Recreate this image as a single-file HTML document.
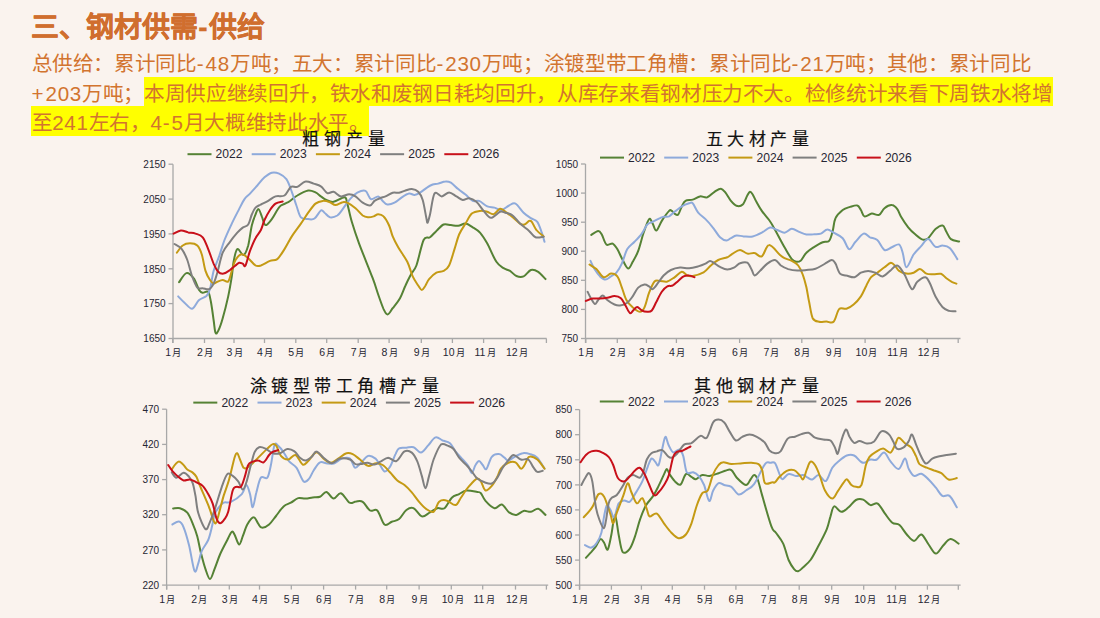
<!DOCTYPE html>
<html lang="zh-CN"><head><meta charset="utf-8">
<style>
html,body{margin:0;padding:0;}
body{width:1100px;height:618px;background:#FAF3EE;position:relative;overflow:hidden;font-family:"Liberation Sans",sans-serif;}
.t{position:absolute;white-space:nowrap;}
#title{left:31px;top:10px;font-size:28px;font-weight:bold;color:#D06E2E;line-height:36px;-webkit-text-stroke:0.3px #D06E2E;}
.b{left:31.5px;font-size:20.6px;color:#D2742F;line-height:30px;letter-spacing:-0.35px;}
.n{letter-spacing:0.7px;}.h{letter-spacing:2px;}.p{letter-spacing:2px;}
.hl{position:absolute;background:#FFFF00;}
svg{position:absolute;left:0;top:0;}
.yl{font-family:"Liberation Sans",sans-serif;font-size:10px;fill:#262633;text-anchor:end;}
.xl{font-family:"Liberation Serif",serif;font-size:10.5px;fill:#262633;text-anchor:middle;}
.xd{font-family:"Liberation Sans",sans-serif;font-size:10.5px;}
.xm{font-size:9.2px;}
.lg{font-family:"Liberation Sans",sans-serif;font-size:12.1px;fill:#262633;}
.ct{font-family:"Liberation Serif",serif;font-size:17px;font-weight:normal;stroke:#111;stroke-width:0.2px;fill:#111;letter-spacing:4.5px;}
</style></head><body>
<div class="hl" style="left:144px;top:77px;width:909px;height:29px"></div>
<div class="hl" style="left:31px;top:106px;width:338px;height:29.5px"></div>
<div id="title" class="t">三<span style="margin-right:-1.2px">、</span>钢材供需<span style="margin:0 1.2px 0 0.4px">-</span>供给</div>
<div class="t b" style="top:49px">总供给：累计同比<span class="h">-</span><span class="n">48</span>万吨；五大：累计同比<span class="h">-</span><span class="n">230</span>万吨；涂镀型带工角槽：累计同比<span class="h">-</span><span class="n">21</span>万吨；其他：累计同比</div>
<div class="t b" style="top:79px"><span class="p">+</span><span class="n">203</span>万吨；本周供应继续回升，铁水和废钢日耗均回升，从库存来看钢材压力不大。检修统计来看下周铁水将增</div>
<div class="t b" style="top:108px">至<span class="n">241</span>左右，<span class="n">4</span><span class="h">-</span><span class="n">5</span>月大概维持此水平。</div>
<svg width="1100" height="618" viewBox="0 0 1100 618">
<path d="M173.0,164.2 V343.0" stroke="#A8A8A8" stroke-width="1.3" fill="none"/>
<path d="M168.5,164.2 H173.0" stroke="#A8A8A8" stroke-width="1.3"/>
<text x="165.6" y="167.9" class="yl">2150</text>
<path d="M168.5,199.1 H173.0" stroke="#A8A8A8" stroke-width="1.3"/>
<text x="165.6" y="202.8" class="yl">2050</text>
<path d="M168.5,233.9 H173.0" stroke="#A8A8A8" stroke-width="1.3"/>
<text x="165.6" y="237.6" class="yl">1950</text>
<path d="M168.5,268.8 H173.0" stroke="#A8A8A8" stroke-width="1.3"/>
<text x="165.6" y="272.5" class="yl">1850</text>
<path d="M168.5,303.6 H173.0" stroke="#A8A8A8" stroke-width="1.3"/>
<text x="165.6" y="307.3" class="yl">1750</text>
<path d="M168.5,338.5 H173.0" stroke="#A8A8A8" stroke-width="1.3"/>
<text x="165.6" y="342.2" class="yl">1650</text>
<path d="M173.0,338.5 H546.6" stroke="#A8A8A8" stroke-width="1.3" fill="none"/>
<path d="M172.7,338.5 V343.0" stroke="#A8A8A8" stroke-width="1.3"/>
<text x="173.2" y="356.2" class="xl"><tspan class="xd">1</tspan><tspan class="xm" dx="1.2">月</tspan></text>
<path d="M204.5,338.5 V343.0" stroke="#A8A8A8" stroke-width="1.3"/>
<text x="205.0" y="356.2" class="xl"><tspan class="xd">2</tspan><tspan class="xm" dx="1.2">月</tspan></text>
<path d="M234,338.5 V343.0" stroke="#A8A8A8" stroke-width="1.3"/>
<text x="234.5" y="356.2" class="xl"><tspan class="xd">3</tspan><tspan class="xm" dx="1.2">月</tspan></text>
<path d="M264.5,338.5 V343.0" stroke="#A8A8A8" stroke-width="1.3"/>
<text x="265.0" y="356.2" class="xl"><tspan class="xd">4</tspan><tspan class="xm" dx="1.2">月</tspan></text>
<path d="M295.8,338.5 V343.0" stroke="#A8A8A8" stroke-width="1.3"/>
<text x="296.3" y="356.2" class="xl"><tspan class="xd">5</tspan><tspan class="xm" dx="1.2">月</tspan></text>
<path d="M326.7,338.5 V343.0" stroke="#A8A8A8" stroke-width="1.3"/>
<text x="327.2" y="356.2" class="xl"><tspan class="xd">6</tspan><tspan class="xm" dx="1.2">月</tspan></text>
<path d="M358.2,338.5 V343.0" stroke="#A8A8A8" stroke-width="1.3"/>
<text x="358.7" y="356.2" class="xl"><tspan class="xd">7</tspan><tspan class="xm" dx="1.2">月</tspan></text>
<path d="M389.1,338.5 V343.0" stroke="#A8A8A8" stroke-width="1.3"/>
<text x="389.6" y="356.2" class="xl"><tspan class="xd">8</tspan><tspan class="xm" dx="1.2">月</tspan></text>
<path d="M421.3,338.5 V343.0" stroke="#A8A8A8" stroke-width="1.3"/>
<text x="421.8" y="356.2" class="xl"><tspan class="xd">9</tspan><tspan class="xm" dx="1.2">月</tspan></text>
<path d="M452.4,338.5 V343.0" stroke="#A8A8A8" stroke-width="1.3"/>
<text x="453.8" y="356.2" class="xl"><tspan class="xd">10</tspan><tspan class="xm" dx="1.2">月</tspan></text>
<path d="M483.6,338.5 V343.0" stroke="#A8A8A8" stroke-width="1.3"/>
<text x="485.0" y="356.2" class="xl"><tspan class="xd">11</tspan><tspan class="xm" dx="1.2">月</tspan></text>
<path d="M515.5,338.5 V343.0" stroke="#A8A8A8" stroke-width="1.3"/>
<text x="516.9" y="356.2" class="xl"><tspan class="xd">12</tspan><tspan class="xm" dx="1.2">月</tspan></text>
<path d="M546.4,338.5 V343.0" stroke="#A8A8A8" stroke-width="1.3"/>
<path d="M179.1,282.2 C180.3,280.7 183.9,273.8 186.4,273.1 C188.8,272.4 191.5,275.4 193.6,278.2 C195.8,281.0 197.6,287.6 199.1,290.0 C200.6,292.4 201.2,292.4 202.7,292.7 C204.2,293.0 206.8,290.3 208.2,291.8 C209.5,293.3 210.0,297.1 210.9,301.8 C211.8,306.5 212.9,314.8 213.6,320.0 C214.4,325.2 214.7,330.9 215.5,332.7 C216.2,334.5 217.0,333.3 218.2,330.9 C219.4,328.5 221.1,323.9 222.7,318.2 C224.4,312.4 226.7,303.3 228.2,296.4 C229.7,289.4 230.9,282.1 231.8,276.4 C232.7,270.6 232.7,266.4 233.6,261.8 C234.5,257.3 235.6,250.2 237.3,249.1 C238.9,248.0 241.8,255.6 243.6,255.0 C245.5,254.4 246.8,250.4 248.2,245.5 C249.5,240.5 250.6,230.6 251.8,225.5 C253.0,220.3 254.3,217.3 255.5,214.5 C256.6,211.8 257.5,208.8 258.5,209.1 C259.6,209.4 260.7,213.7 261.8,216.4 C263.0,219.0 263.8,224.6 265.5,225.1 C267.1,225.5 269.8,221.6 271.8,219.1 C273.8,216.6 275.8,212.3 277.3,210.0 C278.8,207.7 279.1,206.8 280.9,205.5 C282.7,204.2 285.5,203.8 288.2,202.2 C290.9,200.5 293.9,197.4 297.3,195.5 C300.6,193.5 305.2,191.1 308.2,190.5 C311.2,190.0 313.3,191.4 315.5,192.4 C317.6,193.3 319.1,195.1 320.9,196.4 C322.7,197.6 324.2,199.1 326.4,200.0 C328.5,200.9 330.6,202.3 333.6,201.8 C336.7,201.4 342.3,197.0 344.5,197.3 C346.8,197.6 346.1,199.5 347.3,203.6 C348.5,207.7 349.8,215.2 351.8,221.8 C353.8,228.5 355.6,234.2 359.1,243.6 C362.6,253.0 369.5,269.7 372.7,278.2 C375.9,286.7 376.4,289.4 378.2,294.5 C380.0,299.7 382.1,305.8 383.6,309.1 C385.2,312.4 386.1,314.7 387.6,314.5 C389.2,314.4 390.7,310.9 392.7,308.2 C394.8,305.5 397.9,302.0 400.0,298.2 C402.1,294.4 403.6,289.4 405.5,285.5 C407.3,281.5 409.1,277.9 410.9,274.5 C412.7,271.2 414.2,271.2 416.4,265.5 C418.5,259.7 421.4,244.7 423.6,240.0 C425.9,235.3 427.9,238.8 430.0,237.3 C432.1,235.8 434.1,233.0 436.4,230.9 C438.6,228.8 441.2,225.5 443.6,224.5 C446.1,223.6 448.5,224.9 450.9,225.1 C453.3,225.3 455.8,226.1 458.2,225.8 C460.6,225.6 463.0,223.4 465.5,223.6 C467.9,223.9 470.3,225.8 472.7,227.3 C475.2,228.8 477.6,230.0 480.0,232.7 C482.4,235.5 484.5,238.8 487.3,243.6 C490.0,248.5 493.6,257.7 496.4,261.8 C499.1,265.9 501.4,266.7 503.6,268.2 C505.9,269.7 507.9,269.6 510.0,270.9 C512.1,272.2 514.1,275.1 516.4,276.0 C518.6,276.9 521.2,277.4 523.6,276.4 C526.1,275.4 528.5,270.8 530.9,270.0 C533.3,269.2 535.8,270.3 538.2,271.8 C540.6,273.3 544.2,277.9 545.5,279.1" stroke="#558235" stroke-width="2" fill="none" stroke-linejoin="round" stroke-linecap="round"/>
<path d="M178.2,296.4 C179.2,297.4 182.2,300.7 184.5,302.7 C186.9,304.8 189.8,309.2 192.2,308.7 C194.6,308.3 196.7,302.1 199.1,300.0 C201.5,297.9 204.5,297.8 206.4,296.0 C208.2,294.2 208.8,293.3 210.0,289.1 C211.2,284.9 212.1,276.4 213.6,270.9 C215.2,265.5 217.3,261.5 219.1,256.4 C220.9,251.2 222.4,245.5 224.5,240.0 C226.7,234.5 229.4,228.8 231.8,223.6 C234.2,218.5 237.0,213.2 239.1,209.1 C241.2,205.0 242.7,201.7 244.5,199.1 C246.4,196.5 247.9,195.9 250.0,193.6 C252.1,191.4 254.8,188.2 257.3,185.5 C259.7,182.7 262.1,179.4 264.5,177.3 C267.0,175.2 269.4,173.3 271.8,172.7 C274.2,172.1 276.7,172.6 279.1,173.6 C281.5,174.7 284.2,176.1 286.4,179.1 C288.5,182.1 290.2,187.4 291.8,191.8 C293.5,196.2 294.8,201.2 296.4,205.5 C297.9,209.7 298.9,215.0 300.9,217.3 C302.9,219.5 305.9,218.9 308.2,219.1 C310.5,219.3 312.4,220.0 314.5,218.5 C316.7,217.1 319.2,211.5 320.9,210.5 C322.6,209.6 323.0,211.6 324.5,212.7 C326.1,213.8 327.9,216.8 330.0,217.3 C332.1,217.7 335.2,216.8 337.3,215.5 C339.4,214.1 340.6,211.8 342.7,209.1 C344.8,206.4 347.6,201.8 350.0,199.1 C352.4,196.4 354.7,194.1 357.3,192.7 C359.8,191.4 363.2,189.8 365.5,190.9 C367.7,192.0 368.8,198.2 370.9,199.1 C373.0,200.0 376.2,196.1 378.2,196.4 C380.2,196.7 381.2,199.5 382.7,200.9 C384.2,202.3 385.3,204.2 387.3,204.5 C389.2,204.8 392.1,203.9 394.5,202.7 C397.0,201.5 399.4,198.8 401.8,197.3 C404.2,195.8 407.0,194.0 409.1,193.6 C411.2,193.2 412.7,195.1 414.5,194.9 C416.4,194.8 417.9,194.0 420.0,192.7 C422.1,191.5 425.2,188.6 427.3,187.3 C429.4,185.9 430.9,185.2 432.7,184.5 C434.5,183.9 436.1,184.2 438.2,183.6 C440.3,183.1 443.3,181.6 445.5,181.5 C447.6,181.3 448.8,181.5 450.9,182.7 C453.0,184.0 455.8,187.1 458.2,189.1 C460.6,191.1 463.0,192.6 465.5,194.5 C467.9,196.5 470.5,199.8 472.7,200.9 C475.0,202.0 476.7,200.0 479.1,200.9 C481.5,201.8 484.7,205.2 487.3,206.4 C489.8,207.5 492.1,207.0 494.5,207.6 C497.0,208.2 499.4,210.4 501.8,210.0 C504.2,209.6 506.8,206.5 509.1,205.5 C511.4,204.4 513.0,202.4 515.5,203.6 C517.9,204.8 521.1,210.3 523.6,212.7 C526.2,215.2 528.6,216.7 530.9,218.2 C533.2,219.7 535.5,219.4 537.3,221.8 C539.1,224.2 540.6,229.4 541.8,232.7 C543.0,236.1 544.1,240.3 544.5,241.8" stroke="#8EAADB" stroke-width="2" fill="none" stroke-linejoin="round" stroke-linecap="round"/>
<path d="M176.9,252.7 C177.9,251.5 180.5,247.0 182.7,245.5 C184.9,243.9 187.6,243.3 190.0,243.3 C192.4,243.3 195.3,243.6 197.3,245.5 C199.2,247.3 200.5,250.3 201.8,254.5 C203.2,258.8 204.1,266.7 205.5,270.9 C206.8,275.2 208.6,277.9 210.0,280.0 C211.4,282.1 212.4,283.3 213.6,283.6 C214.8,283.9 215.8,282.4 217.3,281.8 C218.8,281.2 220.9,280.1 222.7,280.0 C224.5,279.9 226.7,283.0 228.2,281.5 C229.7,279.9 230.6,274.5 231.8,270.9 C233.0,267.3 233.8,262.8 235.5,260.0 C237.1,257.2 239.7,254.5 241.8,254.2 C243.9,253.9 245.9,256.3 248.2,258.2 C250.5,260.1 253.3,264.2 255.5,265.5 C257.6,266.7 258.5,266.2 260.9,265.5 C263.3,264.7 267.3,262.0 270.0,260.9 C272.7,259.8 274.8,261.1 277.3,259.1 C279.7,257.1 282.1,252.9 284.5,249.1 C287.0,245.3 289.1,240.6 291.8,236.4 C294.5,232.1 298.2,227.6 300.9,223.6 C303.6,219.7 305.8,216.1 308.2,212.7 C310.6,209.4 313.0,205.6 315.5,203.6 C317.9,201.7 320.3,201.2 322.7,200.9 C325.2,200.7 327.9,201.5 330.0,202.2 C332.1,202.9 333.3,205.1 335.5,205.1 C337.6,205.1 340.6,202.5 342.7,202.2 C344.8,201.8 346.1,202.1 348.2,203.1 C350.3,204.1 353.0,206.1 355.5,208.2 C357.9,210.2 360.6,213.9 362.7,215.5 C364.8,217.0 366.4,217.1 368.2,217.3 C370.0,217.4 372.0,216.9 373.6,216.4 C375.3,215.8 376.5,214.2 378.2,214.2 C379.8,214.2 381.8,214.5 383.6,216.4 C385.5,218.2 387.6,222.1 389.1,225.5 C390.6,228.8 391.2,232.7 392.7,236.4 C394.2,240.0 395.8,243.0 398.2,247.3 C400.6,251.5 404.8,257.0 407.3,261.8 C409.7,266.7 410.9,272.4 412.7,276.4 C414.5,280.3 416.7,283.2 418.2,285.5 C419.7,287.7 420.6,290.0 421.8,290.0 C423.0,290.0 424.2,287.3 425.5,285.5 C426.7,283.6 427.3,281.2 429.1,279.1 C430.9,277.0 433.9,274.1 436.4,272.7 C438.8,271.4 441.5,272.1 443.6,270.9 C445.8,269.7 447.3,269.1 449.1,265.5 C450.9,261.8 452.9,254.2 454.5,249.1 C456.2,243.9 457.3,238.8 459.1,234.5 C460.9,230.3 463.3,227.1 465.5,223.6 C467.6,220.2 469.4,215.8 471.8,213.6 C474.2,211.5 477.4,211.2 480.0,210.9 C482.6,210.6 485.0,211.3 487.3,211.8 C489.5,212.4 491.5,214.7 493.6,214.2 C495.8,213.7 498.0,209.1 500.0,208.7 C502.0,208.3 503.3,210.4 505.5,211.8 C507.6,213.2 510.3,215.3 512.7,217.3 C515.2,219.2 518.0,222.4 520.0,223.6 C522.0,224.8 523.0,225.0 524.5,224.5 C526.1,224.1 527.9,221.4 529.1,220.9 C530.3,220.5 530.6,220.3 531.8,221.8 C533.0,223.3 534.4,227.6 536.4,230.0 C538.3,232.4 542.4,235.3 543.6,236.4" stroke="#C49A14" stroke-width="2" fill="none" stroke-linejoin="round" stroke-linecap="round"/>
<path d="M174.5,244.0 C175.8,244.8 179.7,246.4 181.8,249.1 C183.9,251.8 185.6,255.6 187.3,260.0 C188.9,264.4 190.2,270.8 191.8,275.5 C193.5,280.1 195.5,285.5 197.3,287.6 C199.1,289.8 200.8,287.9 202.7,288.2 C204.7,288.4 207.3,289.8 209.1,289.1 C210.9,288.3 212.3,286.4 213.6,283.6 C215.0,280.9 215.8,277.9 217.3,272.7 C218.8,267.6 220.6,257.9 222.7,252.7 C224.8,247.6 227.6,245.2 230.0,241.8 C232.4,238.5 235.2,235.1 237.3,232.7 C239.4,230.4 240.9,229.0 242.7,227.6 C244.5,226.3 246.7,226.7 248.2,224.5 C249.7,222.4 250.6,217.4 251.8,214.5 C253.0,211.7 253.9,209.3 255.5,207.6 C257.0,206.0 258.8,205.7 260.9,204.5 C263.0,203.4 265.8,202.3 268.2,200.9 C270.6,199.5 272.7,197.3 275.5,196.4 C278.2,195.5 282.0,197.0 284.5,195.5 C287.1,193.9 288.8,188.3 290.9,186.9 C293.0,185.5 294.8,187.8 297.3,186.9 C299.7,186.0 302.7,182.0 305.5,181.5 C308.2,180.9 311.1,182.8 313.6,183.6 C316.2,184.5 318.6,184.8 320.9,186.4 C323.2,187.9 325.2,192.2 327.3,193.1 C329.4,194.0 331.4,191.3 333.6,191.8 C335.9,192.4 338.3,196.0 340.9,196.4 C343.5,196.8 346.7,194.2 349.1,194.2 C351.5,194.2 353.2,194.9 355.5,196.4 C357.7,197.8 360.3,201.2 362.7,202.7 C365.2,204.2 368.0,205.8 370.0,205.5 C372.0,205.2 372.9,202.1 374.5,200.9 C376.2,199.7 378.2,198.9 380.0,198.2 C381.8,197.4 383.3,197.3 385.5,196.4 C387.6,195.5 390.5,193.3 392.7,192.7 C395.0,192.1 397.0,193.1 399.1,192.7 C401.2,192.4 403.3,191.2 405.5,190.5 C407.6,189.9 409.7,188.9 411.8,189.1 C413.9,189.3 416.4,190.0 418.2,191.8 C420.0,193.6 421.4,195.6 422.7,200.0 C424.1,204.4 425.5,214.4 426.4,218.2 C427.2,222.0 427.0,223.3 427.6,222.7 C428.2,222.1 428.8,219.4 430.0,214.5 C431.2,209.7 432.6,196.7 434.5,193.6 C436.5,190.6 439.4,196.6 441.8,196.4 C444.2,196.2 446.7,192.4 449.1,192.4 C451.5,192.4 454.1,195.1 456.4,196.4 C458.6,197.6 460.6,199.7 462.7,200.0 C464.8,200.3 466.8,197.9 469.1,198.2 C471.4,198.5 473.9,199.7 476.4,201.8 C478.8,203.9 481.2,208.2 483.6,210.9 C486.1,213.6 488.2,217.7 490.9,217.8 C493.6,218.0 497.6,212.7 500.0,211.8 C502.4,211.0 503.3,212.1 505.5,212.7 C507.6,213.3 510.3,213.6 512.7,215.5 C515.2,217.3 517.3,221.1 520.0,223.6 C522.7,226.2 526.5,228.6 529.1,230.9 C531.7,233.2 533.0,236.3 535.5,237.3 C537.9,238.2 542.3,236.8 543.6,236.7" stroke="#7F7F7F" stroke-width="2" fill="none" stroke-linejoin="round" stroke-linecap="round"/>
<path d="M173.6,233.6 C174.8,233.1 178.5,230.6 180.9,230.4 C183.3,230.2 185.8,231.8 188.2,232.4 C190.6,232.9 193.0,232.8 195.5,233.6 C197.9,234.5 200.6,234.7 202.7,237.3 C204.8,239.8 206.4,244.7 208.2,249.1 C210.0,253.5 212.0,259.8 213.6,263.6 C215.3,267.4 216.5,270.2 218.2,271.8 C219.8,273.5 221.7,273.9 223.6,273.6 C225.6,273.3 228.0,271.4 230.0,270.0 C232.0,268.6 233.9,266.7 235.5,265.5 C237.0,264.2 237.9,263.0 239.1,262.7 C240.3,262.4 241.7,263.2 242.7,263.6 C243.8,264.1 244.2,267.6 245.5,265.5 C246.7,263.3 248.3,255.5 250.0,250.9 C251.7,246.4 253.6,241.7 255.5,238.2 C257.3,234.7 259.4,233.0 260.9,230.0 C262.4,227.0 263.0,223.3 264.5,220.0 C266.1,216.7 268.2,212.7 270.0,210.0 C271.8,207.3 273.3,205.1 275.5,203.6 C277.6,202.2 281.5,201.8 282.7,201.5" stroke="#C8101A" stroke-width="2" fill="none" stroke-linejoin="round" stroke-linecap="round"/>
<text x="302.2" y="144.5" class="ct" style="letter-spacing:5.0px">粗钢产量</text>
<path d="M187.5,154.2 h24" stroke="#558235" stroke-width="2"/>
<text x="215.6" y="158.4" class="lg">2022</text>
<path d="M251.7,154.2 h24" stroke="#8EAADB" stroke-width="2"/>
<text x="279.8" y="158.4" class="lg">2023</text>
<path d="M315.9,154.2 h24" stroke="#C49A14" stroke-width="2"/>
<text x="344.0" y="158.4" class="lg">2024</text>
<path d="M380.1,154.2 h24" stroke="#7F7F7F" stroke-width="2"/>
<text x="408.2" y="158.4" class="lg">2025</text>
<path d="M444.3,154.2 h24" stroke="#C8101A" stroke-width="2"/>
<text x="472.4" y="158.4" class="lg">2026</text>
<path d="M585.5,164.0 V343.0" stroke="#A8A8A8" stroke-width="1.3" fill="none"/>
<path d="M581.0,164.0 H585.5" stroke="#A8A8A8" stroke-width="1.3"/>
<text x="578.1" y="167.7" class="yl">1050</text>
<path d="M581.0,193.1 H585.5" stroke="#A8A8A8" stroke-width="1.3"/>
<text x="578.1" y="196.8" class="yl">1000</text>
<path d="M581.0,222.2 H585.5" stroke="#A8A8A8" stroke-width="1.3"/>
<text x="578.1" y="225.9" class="yl">950</text>
<path d="M581.0,251.2 H585.5" stroke="#A8A8A8" stroke-width="1.3"/>
<text x="578.1" y="254.9" class="yl">900</text>
<path d="M581.0,280.3 H585.5" stroke="#A8A8A8" stroke-width="1.3"/>
<text x="578.1" y="284.0" class="yl">850</text>
<path d="M581.0,309.4 H585.5" stroke="#A8A8A8" stroke-width="1.3"/>
<text x="578.1" y="313.1" class="yl">800</text>
<path d="M581.0,338.5 H585.5" stroke="#A8A8A8" stroke-width="1.3"/>
<text x="578.1" y="342.2" class="yl">750</text>
<path d="M585.5,338.5 H960.5" stroke="#A8A8A8" stroke-width="1.3" fill="none"/>
<path d="M585.8,338.5 V343.0" stroke="#A8A8A8" stroke-width="1.3"/>
<text x="586.3" y="356.2" class="xl"><tspan class="xd">1</tspan><tspan class="xm" dx="1.2">月</tspan></text>
<path d="M617.3,338.5 V343.0" stroke="#A8A8A8" stroke-width="1.3"/>
<text x="617.8" y="356.2" class="xl"><tspan class="xd">2</tspan><tspan class="xm" dx="1.2">月</tspan></text>
<path d="M646.4,338.5 V343.0" stroke="#A8A8A8" stroke-width="1.3"/>
<text x="646.9" y="356.2" class="xl"><tspan class="xd">3</tspan><tspan class="xm" dx="1.2">月</tspan></text>
<path d="M676.4,338.5 V343.0" stroke="#A8A8A8" stroke-width="1.3"/>
<text x="676.9" y="356.2" class="xl"><tspan class="xd">4</tspan><tspan class="xm" dx="1.2">月</tspan></text>
<path d="M708.5,338.5 V343.0" stroke="#A8A8A8" stroke-width="1.3"/>
<text x="709.0" y="356.2" class="xl"><tspan class="xd">5</tspan><tspan class="xm" dx="1.2">月</tspan></text>
<path d="M739.6,338.5 V343.0" stroke="#A8A8A8" stroke-width="1.3"/>
<text x="740.1" y="356.2" class="xl"><tspan class="xd">6</tspan><tspan class="xm" dx="1.2">月</tspan></text>
<path d="M770.9,338.5 V343.0" stroke="#A8A8A8" stroke-width="1.3"/>
<text x="771.4" y="356.2" class="xl"><tspan class="xd">7</tspan><tspan class="xm" dx="1.2">月</tspan></text>
<path d="M801.8,338.5 V343.0" stroke="#A8A8A8" stroke-width="1.3"/>
<text x="802.3" y="356.2" class="xl"><tspan class="xd">8</tspan><tspan class="xm" dx="1.2">月</tspan></text>
<path d="M833.3,338.5 V343.0" stroke="#A8A8A8" stroke-width="1.3"/>
<text x="833.8" y="356.2" class="xl"><tspan class="xd">9</tspan><tspan class="xm" dx="1.2">月</tspan></text>
<path d="M865.1,338.5 V343.0" stroke="#A8A8A8" stroke-width="1.3"/>
<text x="866.5" y="356.2" class="xl"><tspan class="xd">10</tspan><tspan class="xm" dx="1.2">月</tspan></text>
<path d="M896.4,338.5 V343.0" stroke="#A8A8A8" stroke-width="1.3"/>
<text x="897.8" y="356.2" class="xl"><tspan class="xd">11</tspan><tspan class="xm" dx="1.2">月</tspan></text>
<path d="M927.3,338.5 V343.0" stroke="#A8A8A8" stroke-width="1.3"/>
<text x="928.7" y="356.2" class="xl"><tspan class="xd">12</tspan><tspan class="xm" dx="1.2">月</tspan></text>
<path d="M958.2,338.5 V343.0" stroke="#A8A8A8" stroke-width="1.3"/>
<path d="M591.3,234.9 C592.4,234.2 596.4,231.0 598.2,230.9 C599.9,230.8 600.5,232.3 601.8,234.5 C603.2,236.8 604.5,243.0 606.4,244.5 C608.2,246.1 610.9,242.9 612.7,243.6 C614.5,244.4 615.6,246.4 617.3,249.1 C618.9,251.8 620.9,256.8 622.7,260.0 C624.5,263.2 626.5,268.2 628.2,268.5 C629.8,268.8 631.1,264.8 632.7,261.8 C634.4,258.9 636.4,255.8 638.2,250.9 C640.0,246.1 641.8,238.0 643.6,232.7 C645.5,227.4 647.6,220.6 649.1,219.1 C650.6,217.6 651.5,221.7 652.7,223.6 C653.9,225.5 654.8,231.0 656.4,230.5 C657.9,230.1 659.7,224.2 661.8,220.9 C663.9,217.6 667.4,212.6 669.1,210.9 C670.8,209.2 670.9,210.5 671.8,210.9 C672.7,211.4 673.5,213.0 674.5,213.6 C675.6,214.2 677.0,215.8 678.2,214.5 C679.4,213.3 680.6,208.6 681.8,206.4 C683.0,204.1 683.6,202.0 685.5,200.9 C687.3,199.8 690.3,200.4 692.7,199.6 C695.2,198.9 697.6,196.8 700.0,196.4 C702.4,196.0 704.8,198.0 707.3,197.3 C709.7,196.5 712.3,193.2 714.5,191.8 C716.8,190.4 719.1,188.6 720.9,188.7 C722.7,188.9 723.8,190.7 725.5,192.7 C727.1,194.8 729.1,198.7 730.9,200.9 C732.7,203.1 734.4,205.2 736.4,205.8 C738.3,206.4 740.9,206.3 742.7,204.5 C744.5,202.8 746.1,197.6 747.3,195.5 C748.5,193.3 749.1,192.0 750.0,191.8 C750.9,191.7 751.7,192.9 752.7,194.5 C753.8,196.2 754.8,199.1 756.4,201.8 C757.9,204.5 759.7,207.9 761.8,210.9 C763.9,213.9 767.1,217.3 769.1,220.0 C771.1,222.7 771.1,222.7 773.6,227.3 C776.2,231.8 781.5,242.0 784.5,247.3 C787.6,252.6 789.8,256.7 791.8,259.1 C793.8,261.5 794.8,261.6 796.4,261.8 C797.9,262.0 799.2,261.9 800.9,260.4 C802.6,258.8 804.2,254.9 806.4,252.7 C808.5,250.5 810.9,249.0 813.6,247.3 C816.4,245.5 820.2,243.2 822.7,242.2 C825.3,241.1 827.4,242.8 829.1,240.9 C830.8,239.0 831.7,234.7 832.7,230.9 C833.8,227.1 833.8,221.7 835.5,218.2 C837.1,214.7 840.3,211.9 842.7,210.0 C845.2,208.1 847.6,207.7 850.0,206.9 C852.4,206.2 855.5,204.9 857.3,205.5 C859.1,206.0 859.7,208.2 860.9,210.0 C862.1,211.8 862.7,215.8 864.5,216.4 C866.4,217.0 869.4,213.9 871.8,213.6 C874.2,213.4 877.0,215.8 879.1,214.9 C881.2,214.0 882.4,209.8 884.5,208.2 C886.7,206.5 889.7,204.9 891.8,205.1 C893.9,205.2 895.8,207.2 897.3,209.1 C898.8,211.0 899.1,213.3 900.9,216.4 C902.7,219.4 905.8,224.2 908.2,227.3 C910.6,230.3 913.0,232.5 915.5,234.5 C917.9,236.6 920.6,239.0 922.7,239.6 C924.8,240.2 926.1,239.9 928.2,238.2 C930.3,236.4 933.0,231.2 935.5,229.1 C937.9,227.0 940.9,225.0 942.7,225.5 C944.5,225.9 945.0,229.5 946.4,231.8 C947.7,234.1 948.8,237.5 950.9,239.1 C953.0,240.7 957.7,241.1 959.1,241.5" stroke="#558235" stroke-width="2" fill="none" stroke-linejoin="round" stroke-linecap="round"/>
<path d="M590.5,260.9 C591.2,262.3 593.0,266.5 594.5,269.1 C596.1,271.7 598.2,274.6 600.0,276.4 C601.8,278.1 603.6,279.6 605.5,279.6 C607.3,279.6 609.1,277.5 610.9,276.4 C612.7,275.2 614.5,274.8 616.4,272.7 C618.2,270.6 620.0,267.6 621.8,263.6 C623.6,259.7 625.2,252.7 627.3,249.1 C629.4,245.5 632.1,244.4 634.5,241.8 C637.0,239.2 639.7,236.5 641.8,233.6 C643.9,230.8 645.5,226.5 647.3,224.5 C649.1,222.6 650.6,222.9 652.7,221.8 C654.8,220.8 658.2,219.0 660.0,218.2 C661.8,217.3 662.1,217.0 663.6,216.7 C665.2,216.4 667.3,217.2 669.1,216.4 C670.9,215.5 672.4,213.5 674.5,211.8 C676.7,210.2 679.4,207.8 681.8,206.4 C684.2,204.9 687.3,203.8 689.1,203.3 C690.9,202.8 691.2,201.7 692.7,203.3 C694.2,204.8 696.1,210.1 698.2,212.7 C700.3,215.4 703.0,216.7 705.5,219.1 C707.9,221.5 710.3,224.2 712.7,227.3 C715.2,230.3 717.7,235.1 720.0,237.3 C722.3,239.5 724.5,240.4 726.4,240.5 C728.2,240.7 729.2,239.0 730.9,238.2 C732.6,237.3 734.2,235.8 736.4,235.5 C738.5,235.2 740.9,236.2 743.6,236.4 C746.4,236.5 749.7,237.0 752.7,236.4 C755.8,235.8 758.9,234.2 761.8,232.7 C764.7,231.3 767.4,228.1 770.0,227.6 C772.6,227.2 774.8,229.2 777.3,230.0 C779.7,230.8 782.1,232.9 784.5,232.7 C787.0,232.5 789.4,228.9 791.8,228.7 C794.2,228.6 796.7,230.8 799.1,231.8 C801.5,232.8 803.9,234.2 806.4,234.5 C808.8,234.9 811.2,234.3 813.6,234.2 C816.1,234.0 818.6,234.4 820.9,233.6 C823.2,232.8 825.2,229.6 827.3,229.5 C829.4,229.3 831.1,231.3 833.6,232.7 C836.2,234.2 840.2,235.5 842.7,238.2 C845.3,240.9 847.0,248.5 849.1,249.1 C851.2,249.7 853.0,244.4 855.5,241.8 C857.9,239.2 861.2,234.4 863.6,233.6 C866.1,232.9 867.7,236.2 870.0,237.3 C872.3,238.3 874.8,237.9 877.3,240.0 C879.7,242.1 882.1,248.8 884.5,250.0 C887.0,251.2 889.4,248.2 891.8,247.3 C894.2,246.4 897.3,243.6 899.1,244.5 C900.9,245.5 901.5,248.9 902.7,252.7 C903.9,256.5 904.5,267.0 906.4,267.3 C908.2,267.6 911.2,258.0 913.6,254.5 C916.1,251.1 918.5,248.9 920.9,246.4 C923.3,243.8 925.8,239.0 928.2,239.1 C930.6,239.2 933.0,245.8 935.5,246.9 C937.9,248.0 940.3,245.2 942.7,245.5 C945.2,245.7 947.6,245.9 950.0,248.2 C952.4,250.5 956.1,257.3 957.3,259.1" stroke="#8EAADB" stroke-width="2" fill="none" stroke-linejoin="round" stroke-linecap="round"/>
<path d="M589.5,264.5 C590.6,265.3 594.0,267.0 596.4,269.1 C598.7,271.2 601.2,276.5 603.6,277.3 C606.1,278.0 608.6,273.8 610.9,273.6 C613.2,273.5 615.5,274.1 617.3,276.4 C619.1,278.6 620.3,283.3 621.8,287.3 C623.3,291.2 624.5,296.7 626.4,300.0 C628.2,303.3 630.5,305.3 632.7,307.3 C635.0,309.2 638.0,311.8 640.0,311.8 C642.0,311.8 643.0,310.5 644.5,307.3 C646.1,304.1 647.4,297.0 649.1,292.7 C650.8,288.4 652.7,283.4 654.5,281.5 C656.4,279.5 657.9,280.9 660.0,280.9 C662.1,280.9 664.8,282.1 667.3,281.5 C669.7,280.8 672.1,278.9 674.5,277.3 C677.0,275.7 679.7,272.1 681.8,271.8 C683.9,271.5 685.5,274.8 687.3,275.5 C689.1,276.2 690.0,276.5 692.7,276.0 C695.5,275.5 700.6,274.1 703.6,272.4 C706.7,270.6 708.5,267.5 710.9,265.5 C713.3,263.4 715.5,261.4 718.2,260.0 C720.9,258.6 724.8,258.3 727.3,257.3 C729.7,256.2 730.6,254.8 732.7,253.6 C734.8,252.4 737.6,250.0 740.0,250.0 C742.4,250.0 744.8,253.1 747.3,253.6 C749.7,254.2 752.1,252.6 754.5,253.1 C757.0,253.5 759.4,257.7 761.8,256.4 C764.2,255.0 766.1,245.3 769.1,245.1 C772.1,244.8 777.4,252.7 780.0,254.9 C782.6,257.1 782.6,257.2 784.5,258.2 C786.5,259.2 789.5,259.7 791.8,260.9 C794.1,262.1 796.4,263.2 798.2,265.5 C800.0,267.7 801.4,270.9 802.7,274.5 C804.1,278.2 805.3,282.7 806.4,287.3 C807.4,291.8 808.0,296.7 809.1,301.8 C810.2,307.0 811.1,314.8 812.7,318.2 C814.4,321.5 816.8,321.3 819.1,321.8 C821.4,322.4 823.9,321.5 826.4,321.5 C828.8,321.5 831.5,323.9 833.6,321.8 C835.8,319.8 837.0,311.3 839.1,309.1 C841.2,306.9 843.9,309.5 846.4,308.7 C848.8,308.0 851.2,306.6 853.6,304.5 C856.1,302.5 858.8,299.5 860.9,296.4 C863.0,293.2 864.7,288.6 866.4,285.5 C868.0,282.3 869.1,279.4 870.9,277.3 C872.7,275.2 875.0,274.4 877.3,272.7 C879.5,271.1 882.3,268.9 884.5,267.3 C886.8,265.6 889.1,262.9 890.9,262.7 C892.7,262.6 894.1,265.0 895.5,266.4 C896.8,267.7 897.3,269.7 899.1,270.9 C900.9,272.1 903.9,273.3 906.4,273.6 C908.8,273.9 911.4,273.5 913.6,272.7 C915.9,272.0 917.9,268.9 920.0,269.1 C922.1,269.2 924.1,272.8 926.4,273.6 C928.6,274.5 931.2,274.2 933.6,274.2 C936.1,274.2 938.8,273.2 940.9,273.8 C943.0,274.5 944.5,276.8 946.4,278.2 C948.2,279.5 950.2,280.9 951.8,281.8 C953.5,282.7 955.6,283.3 956.4,283.6" stroke="#C49A14" stroke-width="2" fill="none" stroke-linejoin="round" stroke-linecap="round"/>
<path d="M587.6,291.8 C588.2,292.9 589.7,296.2 590.9,298.2 C592.1,300.2 593.7,303.7 594.9,304.0 C596.1,304.3 596.9,301.4 598.2,300.0 C599.5,298.6 601.2,295.5 602.7,295.5 C604.2,295.5 605.3,298.5 607.3,300.0 C609.2,301.5 612.4,303.6 614.5,304.5 C616.7,305.5 617.9,305.8 620.0,305.5 C622.1,305.2 625.2,304.2 627.3,302.7 C629.4,301.2 630.9,298.9 632.7,296.4 C634.5,293.8 636.2,289.6 638.2,287.6 C640.2,285.7 642.7,284.8 644.5,284.5 C646.4,284.3 647.7,285.6 649.1,286.4 C650.5,287.1 651.2,289.7 652.7,289.1 C654.2,288.5 656.4,285.0 658.2,282.7 C660.0,280.5 661.5,277.6 663.6,275.5 C665.8,273.3 668.2,271.3 670.9,270.0 C673.6,268.7 677.0,267.9 680.0,267.6 C683.0,267.3 686.1,268.4 689.1,268.2 C692.1,268.0 695.5,267.1 698.2,266.4 C700.9,265.6 703.5,264.5 705.5,263.6 C707.4,262.7 708.5,261.0 710.0,260.9 C711.5,260.8 712.9,262.3 714.5,263.3 C716.2,264.3 717.9,265.9 720.0,266.9 C722.1,267.9 724.8,269.4 727.3,269.5 C729.7,269.5 732.4,268.3 734.5,267.3 C736.7,266.2 737.9,264.0 740.0,263.3 C742.1,262.5 745.3,261.6 747.3,262.7 C749.2,263.8 750.6,267.9 751.8,270.0 C753.0,272.1 753.2,275.3 754.5,275.5 C755.9,275.6 757.9,272.9 760.0,270.9 C762.1,268.9 764.8,265.5 767.3,263.6 C769.8,261.8 772.7,259.7 775.0,260.0 C777.3,260.3 778.7,263.9 780.9,265.5 C783.1,267.0 785.5,268.2 788.2,269.1 C790.9,269.9 794.2,270.4 797.3,270.5 C800.3,270.7 803.3,270.3 806.4,270.0 C809.4,269.7 812.4,269.7 815.5,268.7 C818.5,267.7 821.8,265.5 824.5,264.0 C827.3,262.5 830.0,260.1 831.8,260.0 C833.6,259.9 834.1,261.4 835.5,263.6 C836.8,265.9 838.2,271.7 840.0,273.6 C841.8,275.6 843.9,274.8 846.4,275.5 C848.8,276.1 852.1,277.7 854.5,277.3 C857.0,276.8 858.6,273.8 860.9,272.7 C863.2,271.7 865.8,270.9 868.2,270.9 C870.6,270.9 873.0,271.8 875.5,272.7 C877.9,273.6 880.3,276.7 882.7,276.4 C885.2,276.1 887.6,272.7 890.0,270.9 C892.4,269.1 894.8,264.8 897.3,265.5 C899.7,266.1 902.1,270.6 904.5,274.5 C907.0,278.5 909.7,287.9 911.8,289.1 C913.9,290.3 915.0,283.8 917.3,281.8 C919.5,279.8 923.3,277.0 925.5,277.3 C927.6,277.6 928.3,280.5 930.0,283.6 C931.7,286.8 933.3,292.4 935.5,296.4 C937.6,300.3 940.5,304.8 942.7,307.3 C945.0,309.7 947.0,310.2 949.1,310.9 C951.2,311.6 954.4,311.2 955.5,311.3" stroke="#7F7F7F" stroke-width="2" fill="none" stroke-linejoin="round" stroke-linecap="round"/>
<path d="M585.8,300.9 C587.0,300.5 590.4,298.9 592.7,298.5 C595.1,298.2 597.6,298.7 600.0,298.5 C602.4,298.4 604.8,298.2 607.3,297.8 C609.7,297.4 612.3,295.9 614.5,296.0 C616.8,296.1 619.1,296.6 620.9,298.2 C622.7,299.8 623.9,303.0 625.5,305.5 C627.0,307.9 628.6,312.3 630.0,313.1 C631.4,313.8 632.4,311.0 633.6,310.0 C634.8,309.0 635.9,306.8 637.3,306.9 C638.6,307.0 640.2,309.7 641.8,310.5 C643.5,311.4 645.6,311.8 647.3,311.8 C648.9,311.8 650.3,312.2 651.8,310.5 C653.3,308.9 654.7,304.9 656.4,301.8 C658.0,298.7 660.0,294.4 661.8,291.8 C663.6,289.2 665.5,287.4 667.3,286.4 C669.1,285.3 670.9,286.4 672.7,285.5 C674.5,284.5 676.4,282.4 678.2,280.9 C680.0,279.4 681.8,277.3 683.6,276.4 C685.5,275.5 687.3,275.3 689.1,275.5 C690.9,275.6 693.6,277.0 694.5,277.3" stroke="#C8101A" stroke-width="2" fill="none" stroke-linejoin="round" stroke-linecap="round"/>
<text x="705.8" y="144.5" class="ct">五大材产量</text>
<path d="M600.0,157.6 h24" stroke="#558235" stroke-width="2"/>
<text x="628.1" y="161.8" class="lg">2022</text>
<path d="M664.2,157.6 h24" stroke="#8EAADB" stroke-width="2"/>
<text x="692.3" y="161.8" class="lg">2023</text>
<path d="M728.4,157.6 h24" stroke="#C49A14" stroke-width="2"/>
<text x="756.5" y="161.8" class="lg">2024</text>
<path d="M792.6,157.6 h24" stroke="#7F7F7F" stroke-width="2"/>
<text x="820.7" y="161.8" class="lg">2025</text>
<path d="M856.8,157.6 h24" stroke="#C8101A" stroke-width="2"/>
<text x="884.9" y="161.8" class="lg">2026</text>
<path d="M166.6,409.2 V589.6" stroke="#A8A8A8" stroke-width="1.3" fill="none"/>
<path d="M162.1,409.2 H166.6" stroke="#A8A8A8" stroke-width="1.3"/>
<text x="159.2" y="412.9" class="yl">470</text>
<path d="M162.1,444.4 H166.6" stroke="#A8A8A8" stroke-width="1.3"/>
<text x="159.2" y="448.1" class="yl">420</text>
<path d="M162.1,479.6 H166.6" stroke="#A8A8A8" stroke-width="1.3"/>
<text x="159.2" y="483.3" class="yl">370</text>
<path d="M162.1,514.7 H166.6" stroke="#A8A8A8" stroke-width="1.3"/>
<text x="159.2" y="518.4" class="yl">320</text>
<path d="M162.1,549.9 H166.6" stroke="#A8A8A8" stroke-width="1.3"/>
<text x="159.2" y="553.6" class="yl">270</text>
<path d="M162.1,585.1 H166.6" stroke="#A8A8A8" stroke-width="1.3"/>
<text x="159.2" y="588.8" class="yl">220</text>
<path d="M166.6,585.1 H548.2" stroke="#A8A8A8" stroke-width="1.3" fill="none"/>
<path d="M166.7,585.1 V589.6" stroke="#A8A8A8" stroke-width="1.3"/>
<text x="167.2" y="602.8" class="xl"><tspan class="xd">1</tspan><tspan class="xm" dx="1.2">月</tspan></text>
<path d="M198.7,585.1 V589.6" stroke="#A8A8A8" stroke-width="1.3"/>
<text x="199.2" y="602.8" class="xl"><tspan class="xd">2</tspan><tspan class="xm" dx="1.2">月</tspan></text>
<path d="M229.3,585.1 V589.6" stroke="#A8A8A8" stroke-width="1.3"/>
<text x="229.8" y="602.8" class="xl"><tspan class="xd">3</tspan><tspan class="xm" dx="1.2">月</tspan></text>
<path d="M259.5,585.1 V589.6" stroke="#A8A8A8" stroke-width="1.3"/>
<text x="260.0" y="602.8" class="xl"><tspan class="xd">4</tspan><tspan class="xm" dx="1.2">月</tspan></text>
<path d="M291.3,585.1 V589.6" stroke="#A8A8A8" stroke-width="1.3"/>
<text x="291.8" y="602.8" class="xl"><tspan class="xd">5</tspan><tspan class="xm" dx="1.2">月</tspan></text>
<path d="M323.6,585.1 V589.6" stroke="#A8A8A8" stroke-width="1.3"/>
<text x="324.1" y="602.8" class="xl"><tspan class="xd">6</tspan><tspan class="xm" dx="1.2">月</tspan></text>
<path d="M355.6,585.1 V589.6" stroke="#A8A8A8" stroke-width="1.3"/>
<text x="356.1" y="602.8" class="xl"><tspan class="xd">7</tspan><tspan class="xm" dx="1.2">月</tspan></text>
<path d="M386.7,585.1 V589.6" stroke="#A8A8A8" stroke-width="1.3"/>
<text x="387.2" y="602.8" class="xl"><tspan class="xd">8</tspan><tspan class="xm" dx="1.2">月</tspan></text>
<path d="M419.1,585.1 V589.6" stroke="#A8A8A8" stroke-width="1.3"/>
<text x="419.6" y="602.8" class="xl"><tspan class="xd">9</tspan><tspan class="xm" dx="1.2">月</tspan></text>
<path d="M451.3,585.1 V589.6" stroke="#A8A8A8" stroke-width="1.3"/>
<text x="452.7" y="602.8" class="xl"><tspan class="xd">10</tspan><tspan class="xm" dx="1.2">月</tspan></text>
<path d="M482.7,585.1 V589.6" stroke="#A8A8A8" stroke-width="1.3"/>
<text x="484.1" y="602.8" class="xl"><tspan class="xd">11</tspan><tspan class="xm" dx="1.2">月</tspan></text>
<path d="M515.5,585.1 V589.6" stroke="#A8A8A8" stroke-width="1.3"/>
<text x="516.9" y="602.8" class="xl"><tspan class="xd">12</tspan><tspan class="xm" dx="1.2">月</tspan></text>
<path d="M546.4,585.1 V589.6" stroke="#A8A8A8" stroke-width="1.3"/>
<path d="M173.1,508.5 C174.2,508.5 177.6,507.5 180.0,508.2 C182.4,508.9 185.2,510.2 187.3,512.7 C189.4,515.3 191.1,519.7 192.7,523.6 C194.4,527.6 195.9,531.5 197.3,536.4 C198.6,541.2 199.5,547.3 200.9,552.7 C202.3,558.2 203.9,564.7 205.5,569.1 C207.0,573.5 208.5,579.1 210.0,579.1 C211.5,579.1 212.9,573.2 214.5,569.1 C216.2,565.0 217.9,559.4 220.0,554.5 C222.1,549.7 225.3,543.8 227.3,540.0 C229.2,536.2 230.6,532.7 231.8,531.8 C233.0,530.9 233.3,532.4 234.5,534.5 C235.8,536.7 237.7,544.2 239.1,544.5 C240.5,544.8 241.4,539.7 242.7,536.4 C244.1,533.0 245.5,527.7 247.3,524.5 C249.1,521.4 251.8,517.4 253.6,517.3 C255.5,517.1 256.8,521.9 258.2,523.6 C259.5,525.4 260.0,527.5 261.8,527.6 C263.6,527.8 266.7,526.6 269.1,524.5 C271.5,522.5 273.9,518.5 276.4,515.5 C278.8,512.4 281.2,508.5 283.6,506.4 C286.1,504.2 288.5,504.1 290.9,502.7 C293.3,501.3 295.8,498.8 298.2,498.1 C300.6,497.4 303.0,498.8 305.5,498.6 C307.9,498.5 310.3,497.7 312.7,497.4 C315.2,497.1 317.7,497.7 320.0,496.8 C322.3,495.9 324.1,491.6 326.4,491.9 C328.6,492.2 331.2,498.4 333.6,498.6 C336.1,498.8 338.3,492.5 340.9,493.2 C343.6,493.9 347.0,501.3 349.5,502.7 C352.0,504.1 353.7,501.6 355.9,501.5 C358.1,501.3 360.4,500.3 362.7,501.8 C365.1,503.3 367.6,509.1 370.0,510.5 C372.4,512.0 374.8,508.2 377.3,510.5 C379.7,512.9 382.1,522.7 384.5,524.5 C387.0,526.4 389.4,522.7 391.8,521.8 C394.2,520.9 396.7,521.1 399.1,519.1 C401.5,517.1 403.9,511.8 406.4,510.0 C408.8,508.2 411.1,507.1 413.6,508.2 C416.2,509.2 419.1,515.7 421.8,516.4 C424.5,517.1 427.4,513.7 430.0,512.4 C432.6,511.0 434.8,508.9 437.3,508.2 C439.7,507.5 442.1,509.9 444.5,508.2 C447.0,506.4 449.4,500.1 451.8,497.7 C454.2,495.4 456.7,495.3 459.1,494.1 C461.5,492.9 463.3,490.8 466.4,490.5 C469.4,490.1 474.8,491.5 477.3,491.9 C479.7,492.4 479.5,491.7 480.9,493.2 C482.3,494.7 483.2,498.4 485.5,500.9 C487.7,503.4 491.8,507.6 494.5,508.2 C497.3,508.8 499.4,503.8 501.8,504.5 C504.2,505.2 506.7,510.6 509.1,512.4 C511.5,514.1 513.9,515.2 516.4,514.9 C518.8,514.7 521.2,511.4 523.6,510.9 C526.1,510.4 528.5,512.2 530.9,511.8 C533.3,511.5 535.8,508.2 538.2,508.7 C540.6,509.2 544.2,513.9 545.5,514.9" stroke="#558235" stroke-width="2" fill="none" stroke-linejoin="round" stroke-linecap="round"/>
<path d="M172.4,524.5 C173.5,524.0 177.2,521.0 179.1,521.5 C181.0,521.9 182.0,523.3 183.6,527.3 C185.3,531.3 187.3,538.2 189.1,545.5 C190.9,552.7 193.0,567.9 194.5,570.9 C196.1,573.9 197.0,567.0 198.2,563.6 C199.4,560.3 200.2,554.8 201.8,550.9 C203.5,547.0 206.5,543.9 208.2,540.0 C209.8,536.1 210.8,531.5 211.8,527.3 C212.9,523.0 213.5,517.7 214.5,514.5 C215.6,511.4 216.7,510.2 218.2,508.2 C219.7,506.2 221.5,503.8 223.6,502.7 C225.8,501.7 227.9,503.3 230.9,501.8 C233.9,500.4 239.2,496.9 241.8,494.1 C244.4,491.3 245.0,485.0 246.4,485.0 C247.7,485.0 248.9,490.4 250.0,494.1 C251.1,497.8 251.7,507.6 252.7,507.3 C253.8,507.0 255.0,497.2 256.4,492.3 C257.7,487.3 259.1,480.2 260.9,477.7 C262.7,475.3 265.6,479.8 267.3,477.7 C268.9,475.6 269.7,470.5 270.9,465.0 C272.1,459.5 273.3,448.2 274.5,445.0 C275.8,441.8 276.7,444.7 278.2,445.9 C279.7,447.1 281.8,449.7 283.6,452.3 C285.5,454.8 287.0,458.8 289.1,461.4 C291.2,463.9 293.9,464.4 296.4,467.7 C298.8,471.1 301.5,479.5 303.6,481.4 C305.8,483.2 307.4,480.5 309.1,478.6 C310.8,476.8 311.8,473.2 313.6,470.5 C315.5,467.7 317.7,463.4 320.0,462.3 C322.3,461.1 324.8,463.4 327.3,463.5 C329.7,463.7 332.1,464.0 334.5,463.2 C337.0,462.4 339.2,459.4 341.8,458.6 C344.4,457.9 347.8,457.1 350.0,458.6 C352.2,460.2 353.3,467.0 355.0,467.7 C356.7,468.5 358.3,465.2 360.5,463.2 C362.7,461.2 365.7,456.7 368.2,455.9 C370.7,455.2 373.5,457.1 375.5,458.6 C377.4,460.2 378.5,462.9 380.0,465.0 C381.5,467.1 382.9,471.1 384.5,471.4 C386.2,471.7 388.2,469.7 390.0,466.8 C391.8,463.9 393.9,457.2 395.5,454.1 C397.0,451.0 397.3,449.3 399.1,448.3 C400.9,447.2 403.9,447.9 406.4,447.7 C408.8,447.5 411.2,446.4 413.6,447.2 C416.1,448.0 418.5,452.9 420.9,452.6 C423.3,452.3 425.8,447.9 428.2,445.4 C430.6,442.8 433.0,438.2 435.5,437.4 C437.9,436.5 440.3,439.5 442.7,440.5 C445.2,441.4 447.9,441.4 450.0,443.2 C452.1,445.0 453.3,448.6 455.5,451.4 C457.6,454.1 460.6,457.1 462.7,459.5 C464.8,462.0 466.7,463.6 468.2,465.9 C469.7,468.2 470.6,473.3 471.8,473.2 C473.0,473.0 474.2,467.0 475.5,465.0 C476.7,463.0 477.9,461.0 479.1,461.0 C480.3,461.0 481.5,463.7 482.7,465.0 C483.9,466.3 484.8,470.4 486.4,469.0 C487.9,467.6 489.7,459.3 491.8,456.8 C493.9,454.3 497.0,453.9 499.1,454.1 C501.2,454.2 503.0,456.7 504.5,457.7 C506.1,458.8 506.4,460.7 508.2,460.5 C510.0,460.2 513.0,457.5 515.5,456.3 C517.9,455.1 520.3,453.5 522.7,453.2 C525.2,452.8 527.6,453.3 530.0,454.1 C532.4,454.8 534.8,455.3 537.3,457.7 C539.7,460.2 543.3,466.8 544.5,468.6" stroke="#8EAADB" stroke-width="2" fill="none" stroke-linejoin="round" stroke-linecap="round"/>
<path d="M171.8,469.5 C172.4,468.6 174.2,465.5 175.5,464.1 C176.7,462.7 177.7,461.2 179.1,461.4 C180.5,461.5 182.3,463.6 183.6,465.0 C185.0,466.4 185.8,468.3 187.3,469.5 C188.8,470.8 191.2,471.4 192.7,472.6 C194.2,473.8 195.2,474.6 196.4,476.8 C197.6,479.0 197.9,480.8 200.0,485.9 C202.1,491.0 207.0,501.9 209.1,507.3 C211.2,512.7 211.7,515.5 212.7,518.2 C213.8,520.9 214.5,523.9 215.5,523.6 C216.4,523.3 216.8,521.0 218.2,516.4 C219.5,511.7 221.8,502.0 223.6,495.9 C225.5,489.8 227.3,485.9 229.1,479.5 C230.9,473.2 233.2,462.1 234.5,457.7 C235.9,453.3 236.4,452.9 237.3,453.2 C238.2,453.5 238.9,457.1 240.0,459.5 C241.1,462.0 242.4,466.4 243.6,467.7 C244.8,469.1 245.8,468.5 247.3,467.7 C248.8,467.0 250.6,465.2 252.7,463.2 C254.8,461.2 257.6,458.3 260.0,455.9 C262.4,453.5 265.2,450.6 267.3,448.6 C269.4,446.7 271.2,444.5 272.7,444.1 C274.2,443.6 275.0,443.9 276.4,445.9 C277.7,447.9 278.9,453.6 280.9,455.9 C282.9,458.2 285.8,459.7 288.2,459.5 C290.6,459.4 293.0,454.2 295.5,455.0 C297.9,455.8 300.6,463.6 302.7,464.6 C304.8,465.6 305.9,463.1 308.2,461.0 C310.5,458.9 313.8,452.7 316.4,452.3 C318.9,451.9 321.2,456.9 323.6,458.6 C326.1,460.4 328.5,462.8 330.9,462.8 C333.3,462.8 335.6,460.2 338.2,458.6 C340.8,457.0 343.9,453.9 346.4,453.2 C348.8,452.4 350.5,453.0 352.7,454.1 C355.0,455.2 357.4,457.6 360.0,459.5 C362.6,461.5 365.6,465.3 368.2,465.9 C370.8,466.5 373.0,463.3 375.5,463.2 C377.9,463.0 380.3,463.5 382.7,465.0 C385.2,466.5 387.6,469.7 390.0,472.3 C392.4,474.8 394.8,478.3 397.3,480.5 C399.7,482.6 402.1,483.0 404.5,485.0 C407.0,487.0 409.4,489.5 411.8,492.3 C414.2,495.1 416.7,499.0 419.1,501.8 C421.5,504.6 423.9,507.4 426.4,509.1 C428.8,510.8 431.5,513.0 433.6,511.8 C435.8,510.6 437.0,503.7 439.1,501.8 C441.2,499.9 443.6,499.8 446.4,500.4 C449.1,500.9 453.0,505.5 455.5,505.1 C457.9,504.7 459.1,500.3 460.9,497.7 C462.7,495.1 464.5,492.0 466.4,489.5 C468.2,487.1 470.0,485.0 471.8,483.2 C473.6,481.4 475.8,478.9 477.3,478.6 C478.8,478.3 479.5,479.4 480.9,481.4 C482.3,483.3 483.6,489.7 485.5,490.5 C487.3,491.2 489.8,488.2 491.8,485.9 C493.8,483.6 495.8,479.7 497.3,476.8 C498.8,473.9 499.1,471.0 500.9,468.6 C502.7,466.3 505.8,463.9 508.2,462.8 C510.6,461.8 513.3,461.3 515.5,462.3 C517.6,463.2 519.4,468.2 520.9,468.6 C522.4,469.1 523.2,467.0 524.5,465.0 C525.9,463.0 527.0,457.7 529.1,456.8 C531.2,455.9 534.7,457.6 537.3,459.5 C539.8,461.5 543.3,467.1 544.5,468.6" stroke="#C49A14" stroke-width="2" fill="none" stroke-linejoin="round" stroke-linecap="round"/>
<path d="M171.8,472.3 C172.6,473.2 174.4,477.6 176.4,477.7 C178.3,477.8 181.5,473.0 183.6,472.8 C185.8,472.7 187.6,475.1 189.1,476.8 C190.6,478.5 191.7,480.0 192.7,483.2 C193.8,486.4 194.5,491.0 195.5,495.9 C196.4,500.8 196.5,507.2 198.2,512.7 C199.8,518.3 203.5,527.6 205.5,529.1 C207.4,530.6 208.5,525.0 210.0,521.8 C211.5,518.6 212.6,515.8 214.5,510.0 C216.5,504.2 219.7,492.8 221.8,486.8 C223.9,480.8 225.5,475.9 227.3,474.1 C229.1,472.3 230.9,474.7 232.7,475.9 C234.5,477.1 236.5,479.1 238.2,481.4 C239.8,483.6 241.4,489.4 242.7,489.5 C244.1,489.7 245.0,486.4 246.4,482.3 C247.7,478.2 249.5,470.0 250.9,465.0 C252.3,460.0 253.2,455.2 254.5,452.3 C255.9,449.3 257.3,447.8 259.1,447.2 C260.9,446.6 263.2,447.6 265.5,448.6 C267.7,449.6 270.3,452.4 272.7,453.2 C275.2,453.9 277.6,453.9 280.0,453.2 C282.4,452.5 284.8,449.3 287.3,449.0 C289.7,448.7 292.4,449.9 294.5,451.4 C296.7,452.8 298.2,456.2 300.0,457.7 C301.8,459.2 303.5,460.6 305.5,460.5 C307.4,460.3 310.0,458.3 311.8,456.8 C313.6,455.3 314.4,451.2 316.4,451.4 C318.3,451.5 321.1,455.8 323.6,457.7 C326.2,459.7 329.1,463.0 331.8,463.2 C334.5,463.3 337.0,459.2 340.0,458.6 C343.0,458.0 347.4,458.6 350.0,459.5 C352.6,460.5 353.6,463.3 355.5,464.1 C357.3,464.8 358.9,464.3 360.9,464.1 C362.9,463.9 365.0,462.7 367.3,462.8 C369.5,462.9 372.3,464.9 374.5,464.6 C376.8,464.4 378.6,462.5 380.9,461.4 C383.2,460.2 385.6,457.8 388.2,457.7 C390.8,457.7 393.6,462.1 396.4,461.0 C399.1,459.9 402.0,452.8 404.5,451.4 C407.1,450.0 409.7,451.0 411.8,452.6 C413.9,454.3 415.6,457.5 417.3,461.4 C418.9,465.2 420.5,471.4 421.8,475.9 C423.2,480.4 424.2,488.3 425.5,488.3 C426.7,488.3 427.7,480.7 429.1,475.9 C430.5,471.1 431.7,464.8 433.6,459.5 C435.6,454.3 438.5,446.9 440.9,444.6 C443.3,442.4 446.1,445.2 448.2,445.9 C450.3,446.6 451.8,447.0 453.6,449.0 C455.5,451.0 457.0,455.1 459.1,457.7 C461.2,460.4 464.2,462.7 466.4,465.0 C468.5,467.3 470.0,469.1 471.8,471.4 C473.6,473.6 475.2,476.8 477.3,478.6 C479.4,480.5 482.1,481.5 484.5,482.3 C487.0,483.1 489.7,484.3 491.8,483.5 C493.9,482.8 495.5,480.4 497.3,477.7 C499.1,475.1 500.9,470.6 502.7,467.7 C504.5,464.8 506.4,462.6 508.2,460.5 C510.0,458.3 511.5,455.2 513.6,455.0 C515.8,454.8 518.5,458.8 520.9,459.5 C523.3,460.3 526.1,458.2 528.2,459.5 C530.3,460.9 532.1,465.7 533.6,467.7 C535.2,469.8 535.8,471.4 537.3,471.9 C538.8,472.4 541.8,471.0 542.7,470.8" stroke="#7F7F7F" stroke-width="2" fill="none" stroke-linejoin="round" stroke-linecap="round"/>
<path d="M168.2,465.0 C168.9,466.1 171.1,469.4 172.7,471.4 C174.4,473.3 176.4,475.3 178.2,476.8 C180.0,478.3 181.7,480.0 183.6,480.5 C185.6,480.9 187.9,479.2 190.0,479.5 C192.1,479.8 194.2,481.2 196.4,482.3 C198.5,483.3 200.8,483.9 202.7,485.9 C204.7,487.9 206.5,491.1 208.2,494.1 C209.8,497.0 211.4,499.6 212.7,503.6 C214.1,507.7 215.2,514.9 216.4,518.2 C217.6,521.5 218.6,523.1 220.0,523.3 C221.4,523.4 223.2,521.0 224.5,519.1 C225.9,517.2 226.8,516.6 228.2,511.8 C229.5,507.0 231.4,494.6 232.7,490.5 C234.1,486.3 235.0,487.4 236.4,486.8 C237.7,486.2 239.5,488.3 240.9,486.8 C242.3,485.3 243.3,481.4 244.5,477.7 C245.8,474.1 246.8,467.7 248.2,465.0 C249.5,462.3 251.1,462.5 252.7,461.7 C254.4,461.0 256.4,460.4 258.2,460.5 C260.0,460.5 261.8,463.2 263.6,462.3 C265.5,461.4 267.6,456.7 269.1,455.0 C270.6,453.3 271.2,452.7 272.7,451.9 C274.2,451.1 277.3,450.4 278.2,450.1" stroke="#C8101A" stroke-width="2" fill="none" stroke-linejoin="round" stroke-linecap="round"/>
<text x="249.5" y="391.5" class="ct">涂镀型带工角槽产量</text>
<path d="M193.3,402.6 h24" stroke="#558235" stroke-width="2"/>
<text x="221.4" y="406.8" class="lg">2022</text>
<path d="M257.5,402.6 h24" stroke="#8EAADB" stroke-width="2"/>
<text x="285.6" y="406.8" class="lg">2023</text>
<path d="M321.7,402.6 h24" stroke="#C49A14" stroke-width="2"/>
<text x="349.8" y="406.8" class="lg">2024</text>
<path d="M385.9,402.6 h24" stroke="#7F7F7F" stroke-width="2"/>
<text x="414.0" y="406.8" class="lg">2025</text>
<path d="M450.1,402.6 h24" stroke="#C8101A" stroke-width="2"/>
<text x="478.2" y="406.8" class="lg">2026</text>
<path d="M579.6,409.6 V589.7" stroke="#A8A8A8" stroke-width="1.3" fill="none"/>
<path d="M575.1,409.6 H579.6" stroke="#A8A8A8" stroke-width="1.3"/>
<text x="572.2" y="413.3" class="yl">850</text>
<path d="M575.1,434.7 H579.6" stroke="#A8A8A8" stroke-width="1.3"/>
<text x="572.2" y="438.4" class="yl">800</text>
<path d="M575.1,459.8 H579.6" stroke="#A8A8A8" stroke-width="1.3"/>
<text x="572.2" y="463.5" class="yl">750</text>
<path d="M575.1,484.9 H579.6" stroke="#A8A8A8" stroke-width="1.3"/>
<text x="572.2" y="488.6" class="yl">700</text>
<path d="M575.1,509.9 H579.6" stroke="#A8A8A8" stroke-width="1.3"/>
<text x="572.2" y="513.6" class="yl">650</text>
<path d="M575.1,535.0 H579.6" stroke="#A8A8A8" stroke-width="1.3"/>
<text x="572.2" y="538.7" class="yl">600</text>
<path d="M575.1,560.1 H579.6" stroke="#A8A8A8" stroke-width="1.3"/>
<text x="572.2" y="563.8" class="yl">550</text>
<path d="M575.1,585.2 H579.6" stroke="#A8A8A8" stroke-width="1.3"/>
<text x="572.2" y="588.9" class="yl">500</text>
<path d="M579.6,585.2 H960.6" stroke="#A8A8A8" stroke-width="1.3" fill="none"/>
<path d="M579.5,585.2 V589.7" stroke="#A8A8A8" stroke-width="1.3"/>
<text x="580.0" y="602.9" class="xl"><tspan class="xd">1</tspan><tspan class="xm" dx="1.2">月</tspan></text>
<path d="M611.4,585.2 V589.7" stroke="#A8A8A8" stroke-width="1.3"/>
<text x="611.9" y="602.9" class="xl"><tspan class="xd">2</tspan><tspan class="xm" dx="1.2">月</tspan></text>
<path d="M641.4,585.2 V589.7" stroke="#A8A8A8" stroke-width="1.3"/>
<text x="641.9" y="602.9" class="xl"><tspan class="xd">3</tspan><tspan class="xm" dx="1.2">月</tspan></text>
<path d="M672.3,585.2 V589.7" stroke="#A8A8A8" stroke-width="1.3"/>
<text x="672.8" y="602.9" class="xl"><tspan class="xd">4</tspan><tspan class="xm" dx="1.2">月</tspan></text>
<path d="M704.5,585.2 V589.7" stroke="#A8A8A8" stroke-width="1.3"/>
<text x="705.0" y="602.9" class="xl"><tspan class="xd">5</tspan><tspan class="xm" dx="1.2">月</tspan></text>
<path d="M735.9,585.2 V589.7" stroke="#A8A8A8" stroke-width="1.3"/>
<text x="736.4" y="602.9" class="xl"><tspan class="xd">6</tspan><tspan class="xm" dx="1.2">月</tspan></text>
<path d="M768.3,585.2 V589.7" stroke="#A8A8A8" stroke-width="1.3"/>
<text x="768.8" y="602.9" class="xl"><tspan class="xd">7</tspan><tspan class="xm" dx="1.2">月</tspan></text>
<path d="M799.2,585.2 V589.7" stroke="#A8A8A8" stroke-width="1.3"/>
<text x="799.7" y="602.9" class="xl"><tspan class="xd">8</tspan><tspan class="xm" dx="1.2">月</tspan></text>
<path d="M831.7,585.2 V589.7" stroke="#A8A8A8" stroke-width="1.3"/>
<text x="832.2" y="602.9" class="xl"><tspan class="xd">9</tspan><tspan class="xm" dx="1.2">月</tspan></text>
<path d="M863.7,585.2 V589.7" stroke="#A8A8A8" stroke-width="1.3"/>
<text x="865.1" y="602.9" class="xl"><tspan class="xd">10</tspan><tspan class="xm" dx="1.2">月</tspan></text>
<path d="M895.5,585.2 V589.7" stroke="#A8A8A8" stroke-width="1.3"/>
<text x="896.9" y="602.9" class="xl"><tspan class="xd">11</tspan><tspan class="xm" dx="1.2">月</tspan></text>
<path d="M927.4,585.2 V589.7" stroke="#A8A8A8" stroke-width="1.3"/>
<text x="928.8" y="602.9" class="xl"><tspan class="xd">12</tspan><tspan class="xm" dx="1.2">月</tspan></text>
<path d="M958.3,585.2 V589.7" stroke="#A8A8A8" stroke-width="1.3"/>
<path d="M585.9,557.8 C586.8,556.8 589.7,553.7 591.4,551.8 C593.0,549.9 594.4,548.5 595.9,546.4 C597.4,544.2 599.1,539.7 600.5,539.1 C601.8,538.5 602.9,541.0 604.1,542.7 C605.3,544.5 606.5,550.8 607.7,549.5 C608.9,548.1 610.2,540.3 611.4,534.5 C612.6,528.8 613.8,515.0 615.0,515.0 C616.2,515.0 617.4,528.4 618.6,534.5 C619.9,540.7 620.8,549.4 622.6,551.8 C624.5,554.2 627.5,551.7 629.5,549.1 C631.6,546.5 633.2,541.5 635.0,536.4 C636.8,531.2 638.6,523.3 640.5,518.2 C642.3,513.0 643.8,509.2 645.9,505.5 C648.0,501.7 651.1,499.2 653.2,495.9 C655.3,492.7 656.8,489.5 658.6,485.9 C660.5,482.3 662.7,476.9 664.1,474.1 C665.5,471.3 665.9,469.0 666.8,469.0 C667.7,469.0 668.2,472.0 669.5,474.1 C670.9,476.2 673.2,479.6 675.0,481.4 C676.8,483.1 678.6,485.8 680.5,484.6 C682.3,483.4 684.1,475.4 685.9,474.1 C687.7,472.8 689.7,476.0 691.4,476.8 C693.0,477.7 694.1,479.5 695.9,479.2 C697.7,478.9 700.0,475.5 702.3,475.0 C704.5,474.5 706.8,476.2 709.5,475.9 C712.3,475.6 715.9,474.1 718.6,473.2 C721.4,472.3 723.8,471.0 725.9,470.5 C728.0,469.9 729.5,468.9 731.4,470.1 C733.2,471.3 734.4,475.2 736.8,477.7 C739.2,480.2 743.6,484.7 745.9,485.0 C748.2,485.3 749.1,481.2 750.5,479.5 C751.8,477.9 752.9,475.0 754.1,475.0 C755.3,475.0 756.4,476.1 757.7,479.5 C759.1,483.0 760.0,488.1 762.3,495.9 C764.5,503.7 769.1,520.2 771.4,526.4 C773.6,532.5 773.9,529.8 775.9,532.7 C777.9,535.6 781.1,539.1 783.2,543.6 C785.3,548.2 786.8,555.8 788.6,560.0 C790.5,564.2 792.5,567.2 794.1,569.1 C795.7,571.0 796.6,571.6 798.1,571.3 C799.6,571.0 801.1,569.2 803.2,567.3 C805.2,565.4 808.0,563.3 810.5,560.0 C812.9,556.7 815.0,552.4 817.7,547.3 C820.5,542.1 824.7,534.2 826.8,529.1 C828.9,523.9 829.2,520.2 830.5,516.4 C831.7,512.6 832.3,507.1 834.1,506.4 C835.9,505.6 838.9,511.7 841.4,511.8 C843.8,512.0 846.2,509.2 848.6,507.3 C851.1,505.3 853.5,501.3 855.9,500.0 C858.3,498.7 860.8,498.8 863.2,499.6 C865.6,500.5 868.0,504.4 870.5,505.1 C872.9,505.8 875.3,502.2 877.7,503.6 C880.2,505.1 882.6,510.5 885.0,513.6 C887.4,516.8 889.8,520.8 892.3,522.7 C894.7,524.6 897.1,523.1 899.5,525.1 C902.0,527.1 904.4,531.9 906.8,534.5 C909.2,537.2 911.7,540.9 914.1,540.9 C916.5,540.9 918.9,533.9 921.4,534.5 C923.8,535.2 926.2,541.4 928.6,544.5 C931.1,547.7 933.5,553.5 935.9,553.6 C938.3,553.8 940.8,547.9 943.2,545.5 C945.6,543.0 947.9,539.4 950.5,539.1 C953.0,538.8 957.3,542.9 958.6,543.6" stroke="#558235" stroke-width="2" fill="none" stroke-linejoin="round" stroke-linecap="round"/>
<path d="M585.0,545.1 C586.1,545.5 589.4,548.0 591.4,547.6 C593.3,547.2 595.2,545.2 596.8,542.7 C598.5,540.2 600.2,537.1 601.4,532.7 C602.6,528.3 603.2,520.9 604.1,516.4 C605.0,511.8 605.8,506.5 606.8,505.5 C607.9,504.4 609.2,508.0 610.5,510.0 C611.7,512.0 612.7,518.3 614.1,517.3 C615.5,516.2 617.0,506.5 618.6,503.6 C620.3,500.8 622.3,500.7 624.1,500.4 C625.9,500.1 627.7,502.9 629.5,501.8 C631.4,500.8 632.9,497.5 635.0,494.1 C637.1,490.7 640.2,485.9 642.3,481.4 C644.4,476.8 646.2,470.6 647.7,466.8 C649.2,463.0 650.2,459.5 651.4,458.6 C652.6,457.7 653.8,460.3 655.0,461.4 C656.2,462.4 657.4,467.1 658.6,465.0 C659.8,462.9 661.2,453.3 662.3,448.6 C663.4,443.9 664.3,437.4 665.4,436.8 C666.4,436.2 667.3,442.4 668.6,445.0 C669.9,447.6 671.4,451.5 673.2,452.3 C675.0,453.0 677.9,448.9 679.5,449.5 C681.2,450.2 682.0,452.1 683.2,455.9 C684.4,459.7 685.2,469.5 686.8,472.3 C688.5,475.0 691.2,471.7 693.2,472.3 C695.2,472.9 696.8,473.8 698.6,475.9 C700.5,478.0 702.3,480.8 704.1,485.0 C705.8,489.2 707.7,500.0 709.2,500.9 C710.7,501.8 711.6,493.4 713.2,490.5 C714.8,487.5 716.8,484.1 718.6,483.2 C720.5,482.3 722.0,484.4 724.1,485.0 C726.2,485.6 728.9,485.2 731.4,486.8 C733.8,488.4 736.2,493.8 738.6,494.5 C741.1,495.1 743.3,492.2 745.9,490.5 C748.5,488.7 750.9,488.5 754.1,484.1 C757.3,479.7 762.3,467.6 765.0,464.1 C767.7,460.5 768.8,463.0 770.5,462.8 C772.1,462.7 773.5,461.3 775.0,463.2 C776.5,465.1 778.3,471.4 779.5,474.1 C780.8,476.8 780.8,479.2 782.3,479.2 C783.8,479.2 786.4,474.6 788.6,474.1 C790.9,473.5 793.5,475.8 795.9,475.9 C798.3,476.1 801.2,474.7 803.2,475.0 C805.2,475.3 806.2,477.0 807.7,477.7 C809.2,478.5 810.5,480.0 812.3,479.5 C814.1,479.1 816.4,474.8 818.6,475.0 C820.9,475.2 823.6,482.2 825.9,481.0 C828.2,479.8 830.0,471.2 832.3,467.7 C834.5,464.3 837.1,462.5 839.5,460.5 C842.0,458.4 844.4,456.4 846.8,455.5 C849.2,454.7 851.8,454.6 854.1,455.5 C856.4,456.5 858.8,460.2 860.5,461.4 C862.1,462.6 862.4,463.1 864.1,462.8 C865.8,462.5 868.3,460.1 870.5,459.5 C872.6,459.0 874.5,460.7 876.8,459.5 C879.1,458.4 881.8,452.3 884.1,452.6 C886.4,452.9 888.0,458.6 890.5,461.4 C892.9,464.1 896.2,469.5 898.6,469.0 C901.1,468.5 903.3,458.7 905.0,458.6 C906.7,458.6 907.1,465.8 908.6,468.6 C910.2,471.5 912.0,475.1 914.1,475.9 C916.2,476.8 918.9,473.1 921.4,473.7 C923.8,474.3 926.2,477.2 928.6,479.5 C931.1,481.9 933.6,485.0 935.9,487.7 C938.2,490.5 940.0,494.5 942.3,495.9 C944.5,497.3 947.1,494.0 949.5,495.9 C952.0,497.8 955.6,505.4 956.8,507.3" stroke="#8EAADB" stroke-width="2" fill="none" stroke-linejoin="round" stroke-linecap="round"/>
<path d="M583.7,517.3 C584.7,516.2 588.0,512.9 589.5,510.9 C591.1,508.9 591.7,508.3 593.2,505.5 C594.7,502.7 596.8,495.5 598.6,494.1 C600.5,492.7 602.1,493.4 604.1,496.8 C606.1,500.2 608.9,510.1 610.5,514.5 C612.0,519.0 612.1,523.6 613.2,523.3 C614.2,523.0 615.2,517.3 616.8,512.7 C618.5,508.2 621.4,500.8 623.2,495.9 C625.0,491.0 626.4,483.8 627.7,483.2 C629.1,482.6 629.8,488.9 631.4,492.3 C632.9,495.6 635.0,502.3 636.8,503.3 C638.6,504.3 640.6,497.2 642.3,498.2 C643.9,499.2 645.6,506.1 646.8,509.1 C648.0,512.1 647.9,515.6 649.5,516.4 C651.2,517.1 654.4,512.4 656.8,513.6 C659.2,514.8 661.7,520.5 664.1,523.6 C666.5,526.8 668.9,530.3 671.4,532.7 C673.8,535.2 676.2,537.9 678.6,538.2 C681.1,538.5 683.8,537.0 685.9,534.5 C688.0,532.1 689.5,528.5 691.4,523.6 C693.2,518.8 695.0,510.5 696.8,505.5 C698.6,500.4 700.5,495.7 702.3,493.2 C704.1,490.7 705.9,493.6 707.7,490.5 C709.5,487.3 711.4,478.3 713.2,474.1 C715.0,469.8 717.0,467.0 718.6,465.0 C720.3,463.0 721.1,462.4 723.2,462.3 C725.3,462.1 728.2,463.9 731.4,464.1 C734.5,464.2 738.9,463.4 742.3,463.2 C745.6,463.0 748.6,462.7 751.4,462.8 C754.1,463.0 756.8,462.8 758.6,464.1 C760.5,465.4 761.2,467.3 762.3,470.5 C763.3,473.6 763.3,481.2 765.0,483.2 C766.7,485.2 770.6,482.4 772.3,482.3 C773.9,482.1 773.8,483.2 775.0,482.3 C776.2,481.4 777.6,478.7 779.5,476.8 C781.5,474.9 784.4,471.9 786.8,470.8 C789.2,469.7 792.0,469.4 794.1,470.1 C796.2,470.8 798.0,473.5 799.5,475.0 C801.1,476.5 802.0,480.1 803.2,479.2 C804.4,478.3 805.6,472.5 806.8,469.5 C808.0,466.6 809.1,462.5 810.5,461.7 C811.8,461.0 813.5,462.8 815.0,465.0 C816.5,467.2 817.9,470.8 819.5,475.0 C821.2,479.2 822.9,486.5 825.0,490.5 C827.1,494.4 830.2,498.4 832.3,498.5 C834.4,498.7 835.9,493.9 837.7,491.4 C839.5,488.8 841.7,485.2 843.2,483.2 C844.7,481.2 845.5,478.9 846.8,479.2 C848.2,479.5 849.8,483.7 851.4,485.0 C852.9,486.3 854.2,486.8 855.9,486.8 C857.6,486.8 859.7,488.6 861.4,485.0 C863.0,481.4 864.5,469.7 865.9,465.0 C867.3,460.3 867.9,459.0 869.5,456.8 C871.2,454.6 873.6,453.3 875.9,451.9 C878.2,450.5 880.8,448.5 883.2,448.6 C885.6,448.8 888.5,453.2 890.5,452.6 C892.4,452.0 893.6,447.5 895.0,445.0 C896.4,442.5 897.0,438.0 898.6,437.7 C900.3,437.4 902.9,441.5 905.0,443.2 C907.1,444.8 909.5,445.6 911.4,447.7 C913.2,449.8 914.5,453.2 915.9,455.9 C917.3,458.6 917.7,462.1 919.5,464.1 C921.4,466.1 924.4,466.7 926.8,467.7 C929.2,468.8 931.7,469.5 934.1,470.5 C936.5,471.4 938.9,471.7 941.4,473.2 C943.8,474.7 946.1,478.7 948.6,479.5 C951.2,480.4 955.5,478.3 956.8,478.1" stroke="#C49A14" stroke-width="2" fill="none" stroke-linejoin="round" stroke-linecap="round"/>
<path d="M581.4,485.0 C582.1,483.6 584.6,478.8 585.9,476.8 C587.2,474.8 588.1,472.4 589.2,473.2 C590.2,473.9 591.2,475.7 592.3,481.4 C593.4,487.0 594.7,500.8 595.9,507.3 C597.1,513.7 598.2,516.5 599.5,520.0 C600.8,523.5 602.7,528.0 603.7,528.2 C604.8,528.3 605.1,525.0 605.9,520.9 C606.7,516.8 607.7,507.4 608.6,503.6 C609.5,499.8 610.0,499.6 611.4,498.2 C612.7,496.7 615.0,496.9 616.8,495.0 C618.6,493.1 620.5,489.7 622.3,486.8 C624.1,483.9 625.9,479.7 627.7,477.7 C629.5,475.8 631.2,475.0 633.2,475.0 C635.2,475.0 637.9,478.2 639.5,477.7 C641.2,477.3 642.0,475.3 643.2,472.3 C644.4,469.2 645.5,462.7 646.8,459.5 C648.2,456.4 649.7,454.5 651.4,453.2 C653.0,451.8 655.0,451.9 656.8,451.4 C658.6,450.8 660.5,449.3 662.3,450.1 C664.1,450.8 666.2,454.6 667.7,455.9 C669.2,457.2 669.8,458.0 671.4,457.7 C672.9,457.4 674.7,456.3 676.8,454.1 C678.9,451.9 681.7,446.5 684.1,444.6 C686.5,442.8 688.6,444.6 691.4,443.2 C694.1,441.7 697.9,436.8 700.5,435.9 C703.0,435.0 704.7,440.0 706.8,437.7 C708.9,435.5 711.2,425.3 713.2,422.3 C715.2,419.2 716.8,419.5 718.6,419.5 C720.5,419.5 722.3,420.3 724.1,422.3 C725.9,424.2 727.6,428.3 729.5,431.4 C731.5,434.4 733.8,439.5 735.9,440.5 C738.0,441.4 740.0,437.8 742.3,436.8 C744.5,435.8 747.1,434.5 749.5,434.5 C752.0,434.5 754.3,435.5 756.8,436.8 C759.3,438.1 762.4,440.0 764.5,442.3 C766.7,444.5 767.8,448.6 769.5,450.5 C771.3,452.3 773.2,453.0 775.0,453.2 C776.8,453.3 778.3,453.8 780.5,451.4 C782.6,448.9 785.3,441.1 787.7,438.6 C790.2,436.2 792.7,437.6 795.0,436.8 C797.3,436.1 799.1,434.8 801.4,434.1 C803.6,433.4 806.4,432.2 808.6,432.8 C810.9,433.4 812.6,436.6 815.0,437.7 C817.4,438.8 820.6,439.1 823.2,439.5 C825.8,440.0 828.5,439.1 830.5,440.5 C832.4,441.8 833.8,445.5 835.0,447.7 C836.2,449.9 836.7,454.9 837.7,453.7 C838.8,452.5 840.0,444.5 841.4,440.5 C842.7,436.4 844.5,430.2 845.9,429.5 C847.3,428.9 848.2,434.6 849.5,436.8 C850.9,439.0 852.4,442.1 854.1,442.8 C855.8,443.5 857.4,440.9 859.5,441.0 C861.7,441.1 864.4,443.5 866.8,443.5 C869.2,443.6 871.7,443.4 874.1,441.4 C876.5,439.3 878.9,432.6 881.4,431.4 C883.8,430.2 886.7,432.4 888.6,434.1 C890.6,435.8 891.8,438.9 893.2,441.4 C894.5,443.8 895.2,447.6 896.8,448.6 C898.5,449.7 901.2,448.9 903.2,447.7 C905.2,446.5 907.2,443.6 908.6,441.4 C910.1,439.2 910.7,434.0 911.9,434.5 C913.1,434.9 914.5,440.7 915.9,444.1 C917.3,447.5 918.8,451.8 920.5,455.0 C922.1,458.2 923.9,462.9 925.9,463.5 C927.9,464.2 930.0,459.8 932.3,458.6 C934.5,457.4 937.1,456.9 939.5,456.3 C942.0,455.7 944.1,455.4 946.8,455.0 C949.5,454.6 954.4,453.9 955.9,453.7" stroke="#7F7F7F" stroke-width="2" fill="none" stroke-linejoin="round" stroke-linecap="round"/>
<path d="M580.5,462.3 C581.4,461.1 584.1,456.8 585.9,455.0 C587.7,453.2 589.5,452.1 591.4,451.4 C593.2,450.7 595.0,450.6 596.8,450.8 C598.6,451.0 600.3,451.6 602.3,452.6 C604.2,453.6 606.8,454.8 608.6,456.8 C610.5,458.9 611.7,461.5 613.2,465.0 C614.7,468.5 615.9,475.0 617.7,477.7 C619.5,480.5 622.1,481.5 624.1,481.4 C626.1,481.2 627.7,478.6 629.5,476.8 C631.4,475.0 633.3,472.0 635.0,470.5 C636.7,468.9 638.0,467.3 639.5,467.7 C641.1,468.2 642.6,470.6 644.1,473.2 C645.6,475.8 647.0,479.5 648.6,483.2 C650.3,486.8 652.4,493.5 654.1,495.0 C655.8,496.5 657.0,493.9 658.6,492.3 C660.3,490.6 662.4,487.7 664.1,485.0 C665.8,482.3 667.1,480.6 668.6,475.9 C670.2,471.2 671.8,460.8 673.2,456.8 C674.5,452.8 675.3,452.9 676.8,451.9 C678.3,450.9 680.0,451.7 682.3,450.8 C684.5,449.9 689.1,447.2 690.5,446.5" stroke="#C8101A" stroke-width="2" fill="none" stroke-linejoin="round" stroke-linecap="round"/>
<text x="694.4" y="391.5" class="ct">其他钢材产量</text>
<path d="M599.8,401.5 h24" stroke="#558235" stroke-width="2"/>
<text x="627.9" y="405.7" class="lg">2022</text>
<path d="M664.0,401.5 h24" stroke="#8EAADB" stroke-width="2"/>
<text x="692.1" y="405.7" class="lg">2023</text>
<path d="M728.2,401.5 h24" stroke="#C49A14" stroke-width="2"/>
<text x="756.3" y="405.7" class="lg">2024</text>
<path d="M792.4,401.5 h24" stroke="#7F7F7F" stroke-width="2"/>
<text x="820.5" y="405.7" class="lg">2025</text>
<path d="M856.6,401.5 h24" stroke="#C8101A" stroke-width="2"/>
<text x="884.7" y="405.7" class="lg">2026</text>
</svg>
</body></html>
